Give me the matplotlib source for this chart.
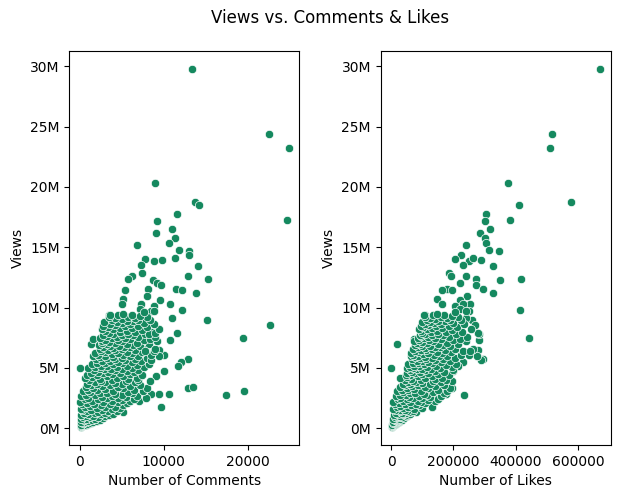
import numpy as np
import pandas as pd
import matplotlib
matplotlib.use("Agg")
import matplotlib.pyplot as plt
import seaborn as sns
from matplotlib.ticker import FuncFormatter

# -------------------------------------------------
# DATA (views in millions, comments / likes in thousands)
# -------------------------------------------------
views_m = [
    # outliers
    29.8, 24.4, 23.2, 20.3, 18.76, 18.54, 17.27, 17.76, 17.18, 16.5,
    16.18, 15.77, 15.35, 15.2, 14.77, 14.69, 14.36, 14.0, 13.82, 14.15,
    13.94, 13.5, 13.44, 12.86, 12.6, 12.6, 12.36, 12.36, 12.28, 12.0,
    11.9, 11.53, 11.53, 11.45, 11.45, 11.2, 10.97, 10.7, 10.6, 10.33,
    10.28, 10.3, 10.1, 9.87, 9.78, 9.7, 9.0, 9.17, 9.37, 8.54,
    7.5, 7.87, 7.3, 6.96, 7.42, 6.07, 6.5, 5.71, 5.51, 5.13,
    4.71, 4.35, 4.99, 3.3, 3.41, 2.8, 3.05, 2.85, 2.85, 2.85,
    1.75, 2.3, 2.5, 1.39,
    # 0 - 1.5M
    0.1, 0.15, 0.2, 0.25, 0.3, 0.3, 0.35, 0.4, 0.45, 0.5,
    0.5, 0.55, 0.6, 0.6, 0.65, 0.7, 0.7, 0.75, 0.8, 0.8,
    0.85, 0.9, 0.9, 0.95, 1.0, 1.0, 1.05, 1.1, 1.1, 1.15,
    1.2, 1.2, 1.25, 1.3, 1.3, 1.35, 1.4, 1.4, 1.45, 1.5,
    1.5, 1.5,
    # 1.5 - 3M
    1.6, 1.6, 1.7, 1.7, 1.75, 1.8, 1.8, 1.85, 1.9, 1.9,
    2.0, 2.0, 2.05, 2.1, 2.1, 2.15, 2.2, 2.2, 2.25, 2.3,
    2.3, 2.35, 2.4, 2.4, 2.45, 2.5, 2.5, 2.55, 2.6, 2.6,
    2.65, 2.7, 2.7, 2.75, 2.8, 2.8, 2.85, 2.9, 2.9, 2.95,
    3.0, 3.0,
    # 3 - 4M
    3.05, 3.1, 3.1, 3.15, 3.2, 3.2, 3.25, 3.3, 3.3, 3.35,
    3.4, 3.45, 3.5, 3.5, 3.55, 3.6, 3.6, 3.65, 3.7, 3.7,
    3.75, 3.8, 3.8, 3.85, 3.9, 3.9, 3.95, 4.0, 4.0, 4.0,
    # 4 - 5M
    4.05, 4.1, 4.15, 4.2, 4.2, 4.25, 4.3, 4.35, 4.4, 4.4,
    4.45, 4.5, 4.5, 4.55, 4.6, 4.6, 4.65, 4.7, 4.7, 4.75,
    4.8, 4.8, 4.85, 4.9, 4.9, 4.95, 5.0, 5.0, 5.0,
    # 5 - 6M
    5.05, 5.1, 5.1, 5.15, 5.2, 5.2, 5.25, 5.3, 5.3, 5.35,
    5.4, 5.4, 5.45, 5.5, 5.5, 5.55, 5.6, 5.6, 5.65, 5.7,
    5.7, 5.75, 5.8, 5.8, 5.85, 5.9, 5.9, 5.95, 6.0, 6.0,
    6.0, 5.65, 6.0,
    # 6 - 7M
    6.05, 6.1, 6.1, 6.15, 6.2, 6.2, 6.25, 6.3, 6.3, 6.35,
    6.4, 6.4, 6.45, 6.5, 6.5, 6.55, 6.6, 6.6, 6.65, 6.7,
    6.7, 6.75, 6.8, 6.8, 6.85, 6.9, 6.9, 6.95, 7.0, 7.0,
    6.6, 6.4,
    # 7 - 8M
    7.05, 7.1, 7.1, 7.15, 7.2, 7.2, 7.25, 7.3, 7.3, 7.35,
    7.4, 7.4, 7.45, 7.5, 7.5, 7.55, 7.6, 7.6, 7.65, 7.7,
    7.7, 7.75, 7.8, 7.8, 7.85, 7.9, 7.95, 8.0, 8.0, 7.8,
    7.9,
    # 8 - 9M
    8.05, 8.1, 8.15, 8.2, 8.2, 8.25, 8.3, 8.35, 8.4, 8.4,
    8.45, 8.5, 8.5, 8.55, 8.6, 8.6, 8.65, 8.7, 8.75, 8.8,
    8.8, 8.85, 8.9, 8.95, 9.0, 9.0,
    # 9 - 10M
    9.05, 9.1, 9.15, 9.2, 9.2, 9.25, 9.3, 9.35, 9.4, 9.4,
    9.75, 9.5, 9.6,
]

comments_k = [
    13.37, 22.54, 24.92, 8.97, 13.73, 14.2, 24.68, 11.59, 9.21, 10.99,
    9.09, 11.35, 10.6, 6.83, 11.83, 13.01, 13.01, 7.78, 8.85, 11.35,
    9.84, 7.3, 14.05, 7.42, 6.23, 12.9, 15.24, 5.71, 8.73, 9.25,
    9.64, 11.43, 8.18, 12.18, 5.4, 13.85, 8.05, 5.2, 9.6, 7.3,
    5.08, 10.71, 8.89, 7.14, 12.22, 8.53, 15.12, 10.99, 3.53, 22.62,
    19.4, 11.59, 10.71, 1.31, 1.55, 10.04, 9.5, 12.9, 12.02, 11.7,
    10.04, 9.09, 0.0, 12.9, 13.49, 17.42, 19.56, 8.53, 9.44, 10.63,
    9.68, 7.02, 7.94, 5.16,
    0.1, 0.3, 0.2, 0.5, 0.8, 0.1, 1.0, 0.4, 1.3, 0.6,
    1.6, 0.2, 2.0, 1.0, 0.5, 1.4, 2.4, 0.8, 0.1, 1.8,
    2.8, 1.2, 0.4, 2.2, 3.0, 0.7, 1.6, 3.5, 0.2, 2.5,
    1.0, 4.0, 0.5, 3.0, 1.8, 2.2, 4.4, 0.9, 3.4, 1.3,
    0.3, 2.7,
    0.1, 3.8, 4.8, 2.0, 0.6, 3.0, 4.2, 1.2, 5.2, 2.5,
    0.3, 3.6, 1.7, 5.6, 0.9, 4.5, 2.8, 0.0, 6.0, 1.4,
    3.9, 5.0, 2.2, 0.6, 6.5, 3.2, 4.6, 1.0, 5.5, 2.6,
    0.2, 6.8, 3.8, 1.8, 5.0, 0.7, 4.2, 6.2, 2.4, 3.3,
    1.2, 5.8,
    7.5, 0.4, 4.0, 2.0, 6.5, 1.0, 3.0, 5.2, 8.0, 1.6,
    4.5, 0.7, 2.6, 6.0, 3.6, 7.2, 1.3, 5.0, 2.1, 0.9,
    4.2, 6.6, 3.0, 1.8, 5.5, 8.4, 2.5, 3.8, 1.1, 7.0,
    5.8, 2.4, 0.6, 4.4, 6.8, 1.5, 3.2, 5.2, 7.4, 2.0,
    0.9, 3.9, 6.0, 2.8, 4.8, 1.3, 6.5, 3.4, 2.2, 5.6,
    1.7, 4.2, 7.0, 2.9, 5.0, 3.7, 1.0, 6.2, 2.4,
    4.4, 7.6, 1.8, 3.2, 5.6, 2.5, 6.8, 4.0, 1.4, 8.2,
    3.0, 5.0, 2.1, 6.2, 4.6, 3.6, 7.3, 2.7, 5.4, 1.9,
    4.2, 6.6, 3.2, 8.0, 5.0, 2.4, 4.0, 6.0, 3.0, 7.0,
    1.6, 8.5, 9.4,
    5.2, 2.2, 8.5, 3.8, 6.2, 1.8, 4.6, 7.4, 3.0, 5.6,
    2.5, 8.8, 4.2, 6.6, 3.4, 5.0, 2.4, 7.8, 4.0, 6.0,
    2.8, 5.3, 3.6, 7.2, 4.7, 2.3, 6.4, 3.2, 5.6, 8.2,
    9.0, 7.8,
    4.2, 2.6, 6.8, 3.5, 5.0, 9.2, 2.6, 7.6, 4.6, 3.0,
    6.0, 8.4, 3.8, 5.4, 2.4, 7.0, 4.4, 9.0, 3.2, 6.4,
    5.0, 2.8, 7.8, 4.0, 5.8, 3.5, 8.6, 4.8, 6.6, 8.2,
    9.0,
    3.0, 5.6, 7.4, 4.0, 9.4, 2.6, 6.2, 4.8, 8.0, 3.4,
    5.4, 7.0, 2.8, 4.2, 8.8, 6.0, 3.6, 5.0, 7.6, 4.4,
    2.9, 6.4, 5.6, 8.4, 3.8, 7.0,
    5.0, 6.6, 4.2, 3.5, 8.0, 5.8, 7.2, 4.6, 3.6, 6.2,
    8.8, 5.2, 7.6,
]

likes_k = [
    671, 515, 511, 374, 576, 409, 383, 306, 303, 319,
    284, 303, 306, 242, 313, 345, 223, 204, 249, 262,
    290, 232, 326, 187, 194, 240, 418, 274, 349, 222,
    272, 294, 180, 197, 165, 326, 244, 149, 221, 254,
    165, 230, 205, 221, 414, 249, 260, 240, 110, 270,
    441, 279, 281, 18, 75, 251, 280, 294, 230, 215,
    200, 175, 0.5, 195, 185, 233, 180, 160, 175, 150,
    133, 140, 150, 80,
    2, 5, 4, 8, 10, 3, 15, 8, 18, 12,
    25, 6, 30, 20, 14, 22, 35, 16, 5, 28,
    42, 25, 12, 35, 50, 18, 30, 55, 10, 40,
    22, 62, 15, 48, 35, 60, 70, 28, 52, 30,
    14, 45,
    8, 75, 100, 40, 20, 55, 130, 30, 90, 65,
    12, 80, 45, 110, 25, 95, 60, 8, 140, 38,
    85, 120, 52, 22, 150, 70, 100, 30, 125, 58,
    15, 160, 90, 48, 115, 28, 105, 170, 62, 78,
    40, 135,
    180, 20, 95, 55, 150, 35, 75, 120, 190, 50,
    110, 30, 68, 140, 88, 170, 45, 125, 60, 40,
    100, 160, 80, 56, 135, 195, 72, 95, 45, 175,
    140, 65, 30, 110, 165, 52, 85, 130, 185, 62,
    48, 100, 150, 78, 120, 50, 170, 92, 68, 140,
    60, 108, 200, 82, 128, 98, 52, 158, 72,
    115, 195, 62, 90, 145, 75, 175, 105, 55, 210,
    88, 130, 70, 160, 120, 98, 190, 82, 140, 68,
    112, 168, 92, 205, 132, 78, 108, 155, 88, 180,
    65, 290, 275,
    138, 72, 225, 102, 162, 65, 120, 192, 88, 148,
    78, 230, 112, 172, 95, 132, 72, 205, 108, 158,
    85, 142, 100, 188, 125, 78, 168, 92, 150, 215,
    262, 252,
    115, 82, 180, 98, 135, 240, 75, 198, 122, 90,
    160, 222, 105, 142, 85, 185, 118, 245, 95, 168,
    132, 92, 208, 110, 152, 100, 228, 128, 175, 283,
    280,
    95, 148, 195, 115, 255, 90, 165, 130, 212, 102,
    145, 185, 95, 120, 235, 160, 108, 138, 200, 125,
    100, 172, 150, 225, 115, 188,
    142, 178, 125, 110, 215, 160, 195, 135, 105, 170,
    240, 148, 205,
]

df = pd.DataFrame({
    "Views": np.array(views_m) * 1e6,
    "Comments": np.array(comments_k) * 1e3,
    "Likes": np.array(likes_k) * 1e3,
})

POINT_COLOR = "#15895f"

# -------------------------------------------------
# PLOT
# -------------------------------------------------
fig, axes = plt.subplots(1, 2, figsize=(6.21, 4.98), dpi=100)
fig.subplots_adjust(left=0.1116, right=0.9834, bottom=0.1064, top=0.8982, wspace=0.354)

millions = FuncFormatter(lambda v, p: f"{v / 1e6:.0f}M")

sns.scatterplot(data=df, x="Comments", y="Views", color=POINT_COLOR, ax=axes[0])
axes[0].set_xlabel("Number of Comments")
axes[0].set_ylabel("Views")
axes[0].yaxis.set_major_formatter(millions)

sns.scatterplot(data=df, x="Likes", y="Views", color=POINT_COLOR, ax=axes[1])
axes[1].set_xlabel("Number of Likes")
axes[1].set_ylabel("Views")
axes[1].yaxis.set_major_formatter(millions)

fig.suptitle("Views vs. Comments & Likes", x=0.5314, y=0.963, va="center", fontsize=12)

fig.savefig("out.png", dpi=100)
